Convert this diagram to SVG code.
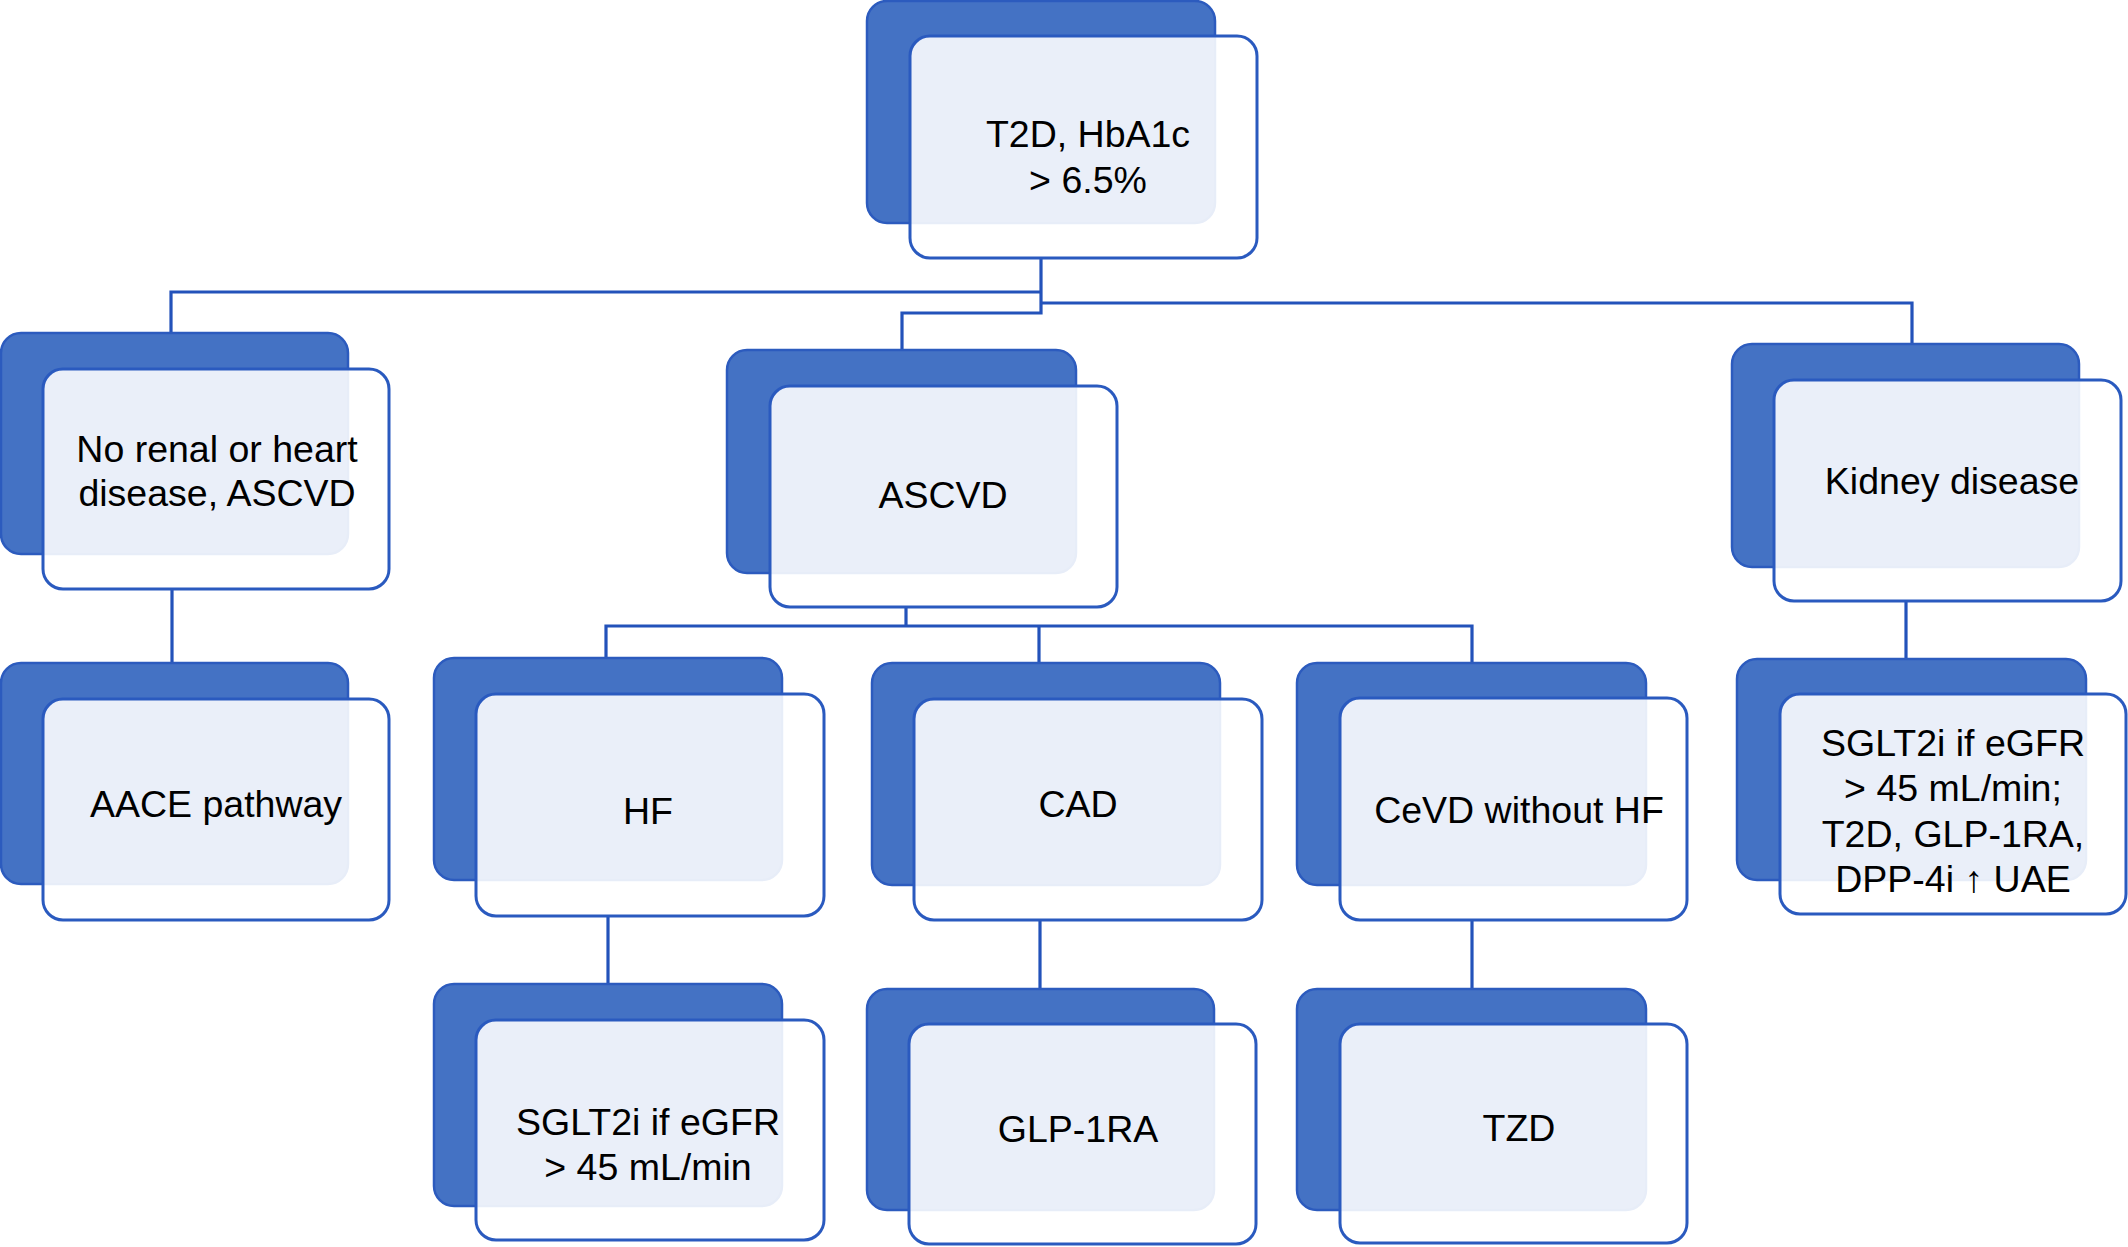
<svg xmlns="http://www.w3.org/2000/svg" width="2128" height="1247" viewBox="0 0 2128 1247">
<style>
.back{fill:#4472C4;stroke:#2C5BBE;stroke-width:2.5}
.front{fill:#FFFFFF;fill-opacity:0.89;stroke:#2A5ABF;stroke-width:3}
.lbl{font-family:"Liberation Sans",Arial,sans-serif;font-size:37.5px;fill:#000;text-anchor:middle}
.conn{fill:none;stroke:#2352BA;stroke-width:3.2}
</style>
<rect width="2128" height="1247" fill="#FFFFFF"/>
<g id="connectors" class="conn">
<path d="M1041 258 V313 H902 V350"/>
<path d="M171 333 V292 H1041"/>
<path d="M1041 303 H1912 V344"/>
<path d="M172 589 V663"/>
<path d="M906 607 V626"/>
<path d="M606 658 V626 H1472 V663"/>
<path d="M1039 626 V663"/>
<path d="M608 916 V984"/>
<path d="M1040 920 V989"/>
<path d="M1472 920 V989"/>
<path d="M1906 601 V659"/>
</g>
<g id="node-t2d">
<rect class="back" x="867" y="1" width="348" height="222" rx="20"/>
<rect class="front" x="910" y="36" width="347" height="222" rx="20"/>
<text class="lbl" x="1088" y="147">T2D, HbA1c</text>
<text class="lbl" x="1088" y="193">&gt; 6.5%</text>
</g>
<g id="node-norenal">
<rect class="back" x="1" y="333" width="347" height="221" rx="20"/>
<rect class="front" x="43" y="369" width="346" height="220" rx="20"/>
<text class="lbl" x="217" y="462">No renal or heart</text>
<text class="lbl" x="217" y="506">disease, ASCVD</text>
</g>
<g id="node-aace">
<rect class="back" x="1" y="663" width="347" height="221" rx="20"/>
<rect class="front" x="43" y="699" width="346" height="221" rx="20"/>
<text class="lbl" x="216" y="817">AACE pathway</text>
</g>
<g id="node-ascvd">
<rect class="back" x="727" y="350" width="349" height="223" rx="20"/>
<rect class="front" x="770" y="386" width="347" height="221" rx="20"/>
<text class="lbl" x="943" y="508">ASCVD</text>
</g>
<g id="node-hf">
<rect class="back" x="434" y="658" width="348" height="222" rx="20"/>
<rect class="front" x="476" y="694" width="348" height="222" rx="20"/>
<text class="lbl" x="648" y="824">HF</text>
</g>
<g id="node-sglt2i-hf">
<rect class="back" x="434" y="984" width="348" height="222" rx="20"/>
<rect class="front" x="476" y="1020" width="348" height="220" rx="20"/>
<text class="lbl" x="648" y="1135">SGLT2i if eGFR</text>
<text class="lbl" x="648" y="1180">&gt; 45 mL/min</text>
</g>
<g id="node-cad">
<rect class="back" x="872" y="663" width="348" height="222" rx="20"/>
<rect class="front" x="914" y="699" width="348" height="221" rx="20"/>
<text class="lbl" x="1078" y="817">CAD</text>
</g>
<g id="node-glp1ra">
<rect class="back" x="867" y="989" width="347" height="221" rx="20"/>
<rect class="front" x="909" y="1024" width="347" height="220" rx="20"/>
<text class="lbl" x="1078" y="1142">GLP-1RA</text>
</g>
<g id="node-cevd">
<rect class="back" x="1297" y="663" width="349" height="222" rx="20"/>
<rect class="front" x="1340" y="698" width="347" height="222" rx="20"/>
<text class="lbl" x="1519" y="823">CeVD without HF</text>
</g>
<g id="node-tzd">
<rect class="back" x="1297" y="989" width="349" height="221" rx="20"/>
<rect class="front" x="1340" y="1024" width="347" height="219" rx="20"/>
<text class="lbl" x="1519" y="1141">TZD</text>
</g>
<g id="node-kidney">
<rect class="back" x="1732" y="344" width="347" height="223" rx="20"/>
<rect class="front" x="1774" y="380" width="347" height="221" rx="20"/>
<text class="lbl" x="1952" y="494">Kidney disease</text>
</g>
<g id="node-sglt2i-kidney">
<rect class="back" x="1737" y="659" width="349" height="221" rx="20"/>
<rect class="front" x="1780" y="694" width="346" height="220" rx="20"/>
<text class="lbl" x="1953" y="756">SGLT2i if eGFR</text>
<text class="lbl" x="1953" y="801">&gt; 45 mL/min;</text>
<text class="lbl" x="1953" y="847">T2D, GLP-1RA,</text>
<text class="lbl" x="1953" y="892">DPP-4i ↑ UAE</text>
</g>
</svg>
